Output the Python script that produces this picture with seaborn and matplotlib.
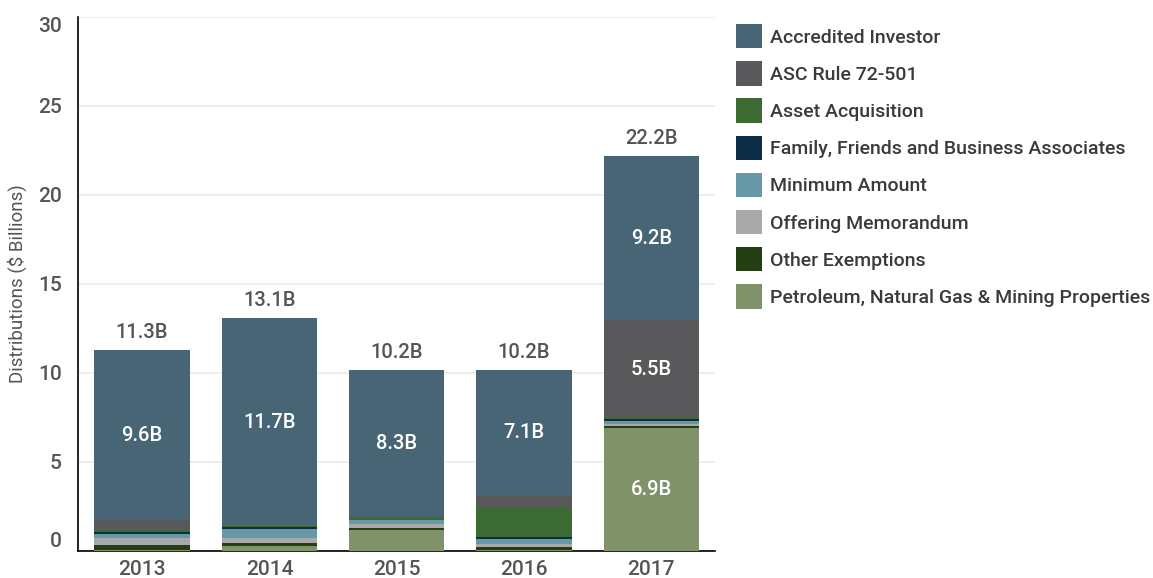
import numpy as np
import pandas as pd
import matplotlib
matplotlib.use("Agg")
import matplotlib.pyplot as plt
import seaborn as sns
from matplotlib.patches import Patch

years = ["2013", "2014", "2015", "2016", "2017"]
categories = [
    "Accredited Investor",
    "ASC Rule 72-501",
    "Asset Acquisition",
    "Family, Friends and Business Associates",
    "Minimum Amount",
    "Offering Memorandum",
    "Other Exemptions",
    "Petroleum, Natural Gas & Mining Properties",
]
colors = ["#476575", "#59595b", "#3b6a33", "#0d2c45", "#6798a6", "#a9a9ab", "#243f13", "#7f926a"]

accredited = [9.6, 11.7, 8.3, 7.1, 9.2]
asc_rule = [0.55, 0.02, 0.02, 0.67, 5.5]
asset_acq = [0.08, 0.02, 0.11, 1.61, 0.05]
family = [0.12, 0.13, 0.02, 0.13, 0.1]
minimum = [0.25, 0.47, 0.2, 0.26, 0.2]
offering = [0.4, 0.28, 0.22, 0.22, 0.1]
other = [0.25, 0.22, 0.15, 0.13, 0.1]
petroleum = [0.05, 0.24, 1.15, 0.05, 6.9]
totals = [11.3, 13.1, 10.2, 10.2, 22.2]

series = [accredited, asc_rule, asset_acq, family, minimum, offering, other, petroleum]

sns.set_style("white")
plt.rcParams["font.family"] = ["Roboto", "DejaVu Sans"]

fig = plt.figure(figsize=(11.53, 5.78), dpi=100)
ax = fig.add_axes([78.4 / 1153, 1 - 550.7 / 578, (715 - 78.4) / 1153, (550.7 - 16.7) / 578])

# stacked from bottom: petroleum at bottom, accredited on top
stack_order = list(range(len(series)))[::-1]
cum = np.zeros(len(years))
bottoms = {}
for i in stack_order:
    bottoms[i] = cum.copy()
    cum = cum + np.array(series[i])

# draw from the top-most cumulative down so later bars overlay
for i in stack_order[::-1]:
    top = bottoms[i] + np.array(series[i])
    df = pd.DataFrame({"year": years, "val": top})
    sns.barplot(data=df, x="year", y="val", color=colors[i], saturation=1,
                width=0.75, ax=ax, linewidth=0, zorder=3)

ax.set_ylim(0, 30)
ax.set_xlim(-0.5, 4.5)
ax.set_yticks([0, 5, 10, 15, 20, 25, 30])
ax.yaxis.grid(True, color="#ebebeb", linewidth=1.2, zorder=0)
ax.set_axisbelow(True)
for s in ["top", "right"]:
    ax.spines[s].set_visible(False)
ax.spines["left"].set_color("#000000")
ax.spines["left"].set_linewidth(1.2)
ax.spines["bottom"].set_color("#000000")
ax.spines["bottom"].set_linewidth(1.2)
ax.tick_params(axis="y", length=6, color="#e0e0e0", width=1.2, labelsize=15,
               labelcolor="#555555", pad=6)
ax.tick_params(axis="x", length=0, labelsize=15, labelcolor="#555555", pad=6.5)
for lab in ax.get_xticklabels() + ax.get_yticklabels():
    lab.set_fontweight("medium")
ylabs = ax.get_yticklabels()
ylabs[0].set_va("bottom")
ylabs[-1].set_va("top")

ax.set_xticks([0.5, 1.5, 2.5, 3.5], minor=True)
ax.tick_params(axis="x", which="minor", length=9, color="#d5d5d5", width=1.5)

ax.set_xlabel("")
ax.set_ylabel("Distributions ($ Billions)", fontsize=13.5, color="#555555", labelpad=8)

for i in stack_order:
    for j in range(len(years)):
        v = series[i][j]
        if v >= 5:
            ax.text(j, bottoms[i][j] + v / 2, f"{v:.1f}B", ha="center", va="center",
                    color="white", fontsize=14.5, fontweight="medium", zorder=5)

for j, t in enumerate(totals):
    ax.text(j, cum[j] + 0.45, f"{t:.1f}B", ha="center", va="bottom",
            color="#555555", fontsize=14.5, fontweight="medium", zorder=5)

handles = [Patch(facecolor=c, edgecolor="none") for c in colors]
leg = fig.legend(handles, categories, loc="upper left", bbox_to_anchor=(736 / 1153, 1 - 24 / 578),
                 frameon=False, fontsize=14, handlelength=1.33, handleheight=1.55,
                 labelspacing=0.66, handletextpad=0.42, borderaxespad=0, borderpad=0)
for t in leg.get_texts():
    t.set_color("#3a3a3a")
    t.set_fontweight("medium")

fig.savefig("out.png", dpi=100)
